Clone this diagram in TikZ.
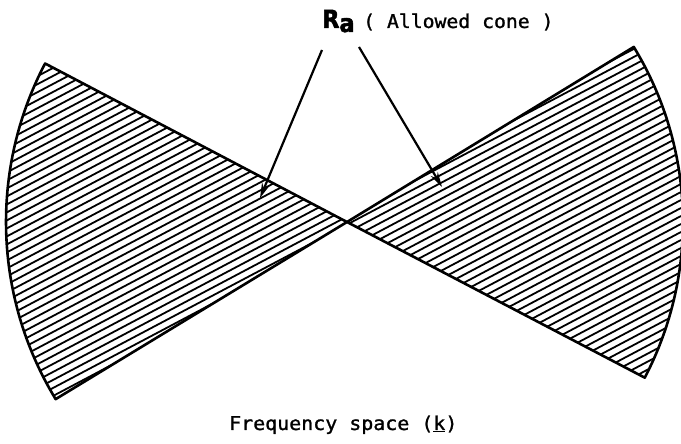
\documentclass[tikz,border=0pt]{standalone}
\usepackage{fontspec}
\usepackage{graphicx}
\usetikzlibrary{arrows.meta}
\newfontfamily\tfont[FakeBold=1.2]{DejaVu Sans Mono}
\newfontfamily\rfont[FakeBold=2]{DejaVu Sans Condensed}
\begin{document}
\begin{tikzpicture}[x=1pt,y=1pt,
  outline/.style={line width=2.6pt,line join=round},
  hatch/.style={line width=1.8pt},
  pointer/.style={line width=2.2pt,-{Stealth[length=15pt,width=8pt]}},
  lbl/.style={inner sep=0pt,font=\tfont\fontsize{19}{22}\selectfont}]
\useasboundingbox (0,0) rectangle (681,444);
\coordinate (C) at (347,222);
\begin{scope}
\clip (C) -- ++(152.3:341) arc[start angle=152.3,end angle=211.3,radius=341] -- cycle
      (C) -- ++(-27.6:336) arc[start angle=-27.6,end angle=31.4,radius=336] -- cycle;
\foreach \b in {-380,-372,...,460} \draw[hatch] (0,\b) -- (681,\b+360);
\end{scope}
\draw[outline] (C) -- ++(152.3:341) arc[start angle=152.3,end angle=211.3,radius=341] -- cycle;
\draw[outline] (C) -- ++(-27.6:336) arc[start angle=-27.6,end angle=31.4,radius=336] -- cycle;
% labels
\node[inner sep=0pt,anchor=base west] (ra) at (322,416)
  {\rfont\bfseries\fontsize{25}{28}\selectfont R\raisebox{-4pt}{a}};
\node[lbl,anchor=base west] (allowed) at (363,416) {\scalebox{1.04}[1]{( Allowed cone )}};
\node[lbl,anchor=base west] (freq) at (229,14) {\scalebox{1.05}[1]{Frequency space (\underline{k})}};
% arrows
\coordinate (s1) at (322,394);
\coordinate (t1) at (260,246);
\coordinate (s2) at (359,397);
\coordinate (t2) at (442,257);
\draw[pointer] (s1) -- (t1);
\draw[pointer] (s2) -- (t2);
\end{tikzpicture}
\end{document}
